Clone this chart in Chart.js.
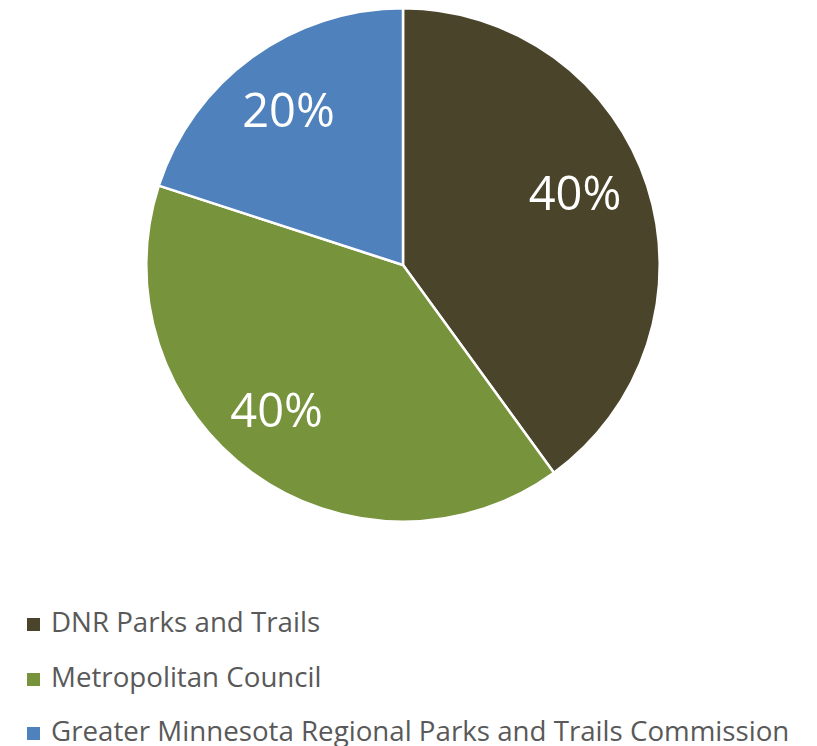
<!DOCTYPE html>
<html>
<head>
<meta charset="utf-8">
<script src="https://cdn.jsdelivr.net/npm/chart.js@4/dist/chart.umd.min.js"></script>
<style>
  html, body { margin: 0; padding: 0; background: #fff; }
  #wrap { position: relative; width: 817px; height: 746px; overflow: hidden; }
  #box { position: absolute; left: 0; top: 0; width: 817px; height: 530px; }
  #legend { position: absolute; left: 27px; top: 599px; font-family: "Open Sans", sans-serif;
            font-size: 27.7px; color: #595959; }
  .item { height: 54.5px; line-height: 44px; white-space: nowrap; }
  .sw { display: inline-block; width: 13px; height: 13px; margin-right: 11px; vertical-align: 1px; }
</style>
</head>
<body>
<div id="wrap">
  <div id="box"><canvas id="canvas"></canvas></div>
  <div id="legend"></div>
</div>
<script>
// データ
var labels = ['DNR Parks and Trails', 'Metropolitan Council', 'Greater Minnesota Regional Parks and Trails Commission'];
var values = [40, 40, 20];
var colors = ['#4A442A', '#77933C', '#4F81BD'];

// ラベル位置の微調整（度）
var labelShift = [-4.5, 5, -0.5];

// スライス内のパーセント表示
var pctLabels = {
  id: 'pctLabels',
  afterDatasetsDraw: function(chart) {
    var ctx = chart.ctx;
    var total = values.reduce(function(a, b) { return a + b; }, 0);
    chart.getDatasetMeta(0).data.forEach(function(arc, i) {
      var p = arc.getProps(['x', 'y', 'startAngle', 'endAngle', 'outerRadius'], true);
      var mid = (p.startAngle + p.endAngle) / 2 + labelShift[i] * Math.PI / 180;
      var r = p.outerRadius * (i === 0 ? 0.725 : 0.75);
      ctx.save();
      ctx.fillStyle = '#fff';
      ctx.font = '47px "Open Sans"';
      ctx.textAlign = 'center';
      ctx.textBaseline = 'middle';
      ctx.fillText(Math.round(values[i] / total * 100) + '%', p.x + Math.cos(mid) * r, p.y + Math.sin(mid) * r + 3);
      ctx.restore();
    });
  }
};

new Chart(document.getElementById('canvas'), {
  type: 'pie',
  data: {
    labels: labels,
    datasets: [{
      data: values,
      backgroundColor: colors,
      borderColor: '#fff',
      borderWidth: 2.5
    }]
  },
  options: {
    responsive: true,
    maintainAspectRatio: false,
    animation: false,
    layout: { padding: { top: 7, bottom: 7, left: 0, right: 11 } },
    plugins: {
      legend: { display: false },
      tooltip: { enabled: false }
    }
  },
  plugins: [pctLabels]
});

// 凡例
var lg = document.getElementById('legend');
labels.forEach(function(t, i) {
  var d = document.createElement('div');
  d.className = 'item';
  d.innerHTML = '<span class="sw" style="background:' + colors[i] + '"></span>' + t;
  lg.appendChild(d);
});
</script>
</body>
</html>
